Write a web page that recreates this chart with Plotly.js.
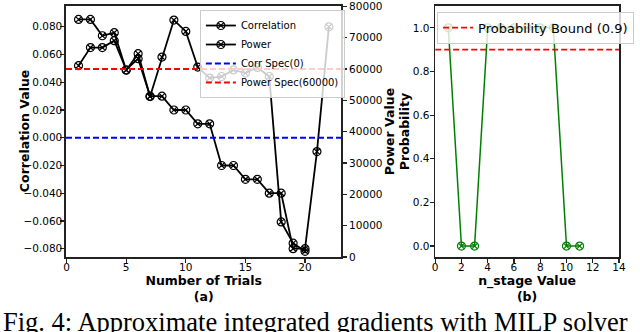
<!DOCTYPE html>
<html>
<head>
<meta charset="utf-8">
<script src="https://cdn.plot.ly/plotly-3.0.1.min.js"></script>
<style>
  html, body { margin: 0; padding: 0; background: #fff; }
  #graph { width: 640px; height: 332px; }
</style>
</head>
<body>
<div id="graph"></div>
<script>
// Panel (a): correlation and power per trial
var trials = [1, 2, 3, 4, 5, 6, 7, 8, 9, 10, 11, 12, 13, 14, 15, 16, 17, 18, 19, 20, 21, 22];
var correlation = [0.052, 0.065, 0.065, 0.070, 0.049, 0.057, 0.030, 0.030, 0.020, 0.020, 0.010,
                   0.010, -0.020, -0.020, -0.030, -0.030, -0.040, -0.040, -0.080, -0.080, -0.010, 0.080];
var powerTrials = [1, 2, 3, 4, 5, 6, 7, 8, 9, 10, 11, 12, 13, 14, 15, 16, 17, 18, 19, 20];
var power = [75800, 75800, 70600, 71600, 59600, 64900, 51200, 63800, 75600, 72000,
             60600, 57100, 57600, 59700, 58700, 60500, 57600, 11200, 4400, 1800];
var corrSpec = 0;
var powerSpec = 60000;
var trialRange = [-0.05, 23.05];

// Panel (b): probability per n_stage value
var nStage = [1, 2, 3, 4, 5, 6, 7, 8, 9, 10, 11];
var probability = [1, 0, 0, 1, 1, 1, 1, 1, 1, 0, 0];
var probBound = 0.9;
var stageRange = [0, 14];

var FONT = 'DejaVu Sans';

var traces = [
    {
        x: trials, y: correlation, name: 'Correlation',
        type: 'scatter', mode: 'lines+markers',
        line: { color: 'black', width: 1.8 },
        marker: { symbol: 'circle-x-open', size: 8, color: 'black', line: { width: 1.2 } },
        xaxis: 'x', yaxis: 'y', legend: 'legend'
    },
    {
        x: powerTrials, y: power, name: 'Power',
        type: 'scatter', mode: 'lines+markers',
        line: { color: 'black', width: 1.8 },
        marker: { symbol: 'circle-x-open', size: 8, color: 'black', line: { width: 1.2 } },
        xaxis: 'x', yaxis: 'y2', legend: 'legend'
    },
    {
        x: trialRange, y: [corrSpec, corrSpec], name: 'Corr Spec(0)',
        type: 'scatter', mode: 'lines',
        line: { color: 'blue', width: 1.8, dash: '6px,3px' },
        xaxis: 'x', yaxis: 'y', legend: 'legend'
    },
    {
        x: trialRange, y: [powerSpec, powerSpec], name: 'Power Spec(60000)',
        type: 'scatter', mode: 'lines',
        line: { color: 'red', width: 1.8, dash: '6px,3px' },
        xaxis: 'x', yaxis: 'y2', legend: 'legend'
    },
    {
        x: nStage, y: probability, name: 'Probability',
        type: 'scatter', mode: 'lines+markers', showlegend: false,
        line: { color: 'green', width: 1.5 },
        marker: { symbol: 'circle-x-open', size: 8, color: 'green', line: { width: 1.2 } },
        xaxis: 'x2', yaxis: 'y3'
    },
    {
        x: stageRange, y: [probBound, probBound], name: 'Probability Bound (0.9)',
        type: 'scatter', mode: 'lines',
        line: { color: 'red', width: 1.8, dash: '6px,3px' },
        xaxis: 'x2', yaxis: 'y3', legend: 'legend2'
    }
];

var axisStyle = {
    showline: true, linecolor: '#222', linewidth: 1.6,
    ticks: 'outside', ticklen: 4, tickwidth: 1.2, tickcolor: '#222',
    showgrid: false, zeroline: false, ticklabeloverflow: 'allow',
    tickfont: { family: FONT, size: 10.5, color: 'black' }
};

function ax(extra) {
    return Object.assign({}, axisStyle, extra);
}

var titleFont = { family: FONT, size: 12.5, color: 'black' };

var layout = {
    width: 640, height: 332,
    margin: { l: 66, r: 12, t: 6, b: 75 },
    paper_bgcolor: 'white', plot_bgcolor: 'white',
    font: { family: FONT, color: 'black' },
    xaxis: ax({
        domain: [0, 0.498], range: trialRange, tickmode: 'linear', tick0: 0, dtick: 5,
        mirror: true, anchor: 'y', ticklabelstandoff: -4,
        title: { text: '<b>Number of Trials</b><br><b>(a)</b>', font: titleFont, standoff: 0 }
    }),
    yaxis: ax({
        range: [-0.086, 0.095], tickmode: 'linear', tick0: -0.08, dtick: 0.02, tickformat: '.3f',
        anchor: 'x', ticklabelstandoff: -4
    }),
    yaxis2: ax({
        range: [0, 80100], tickmode: 'linear', tick0: 0, dtick: 10000, tickformat: 'd',
        overlaying: 'y', side: 'right', anchor: 'x',
        title: { text: '<b>Power Value</b>', font: titleFont, standoff: 4 }
    }),
    xaxis2: ax({
        domain: [0.6676, 1], range: stageRange, tickmode: 'linear', tick0: 0, dtick: 2,
        mirror: true, anchor: 'y3', ticklabelstandoff: -4,
        title: { text: '<b>n_stage Value</b><br><b>(b)</b>', font: titleFont, standoff: 0 }
    }),
    yaxis3: ax({
        range: [-0.05, 1.1], tickmode: 'linear', tick0: 0, dtick: 0.2, tickformat: '.1f',
        mirror: true, anchor: 'x2', ticklabelstandoff: -2,
        title: { text: '<b>Probability</b>', font: titleFont, standoff: 0 }
    }),
    legend: {
        x: 0.2421, y: 0.984, xanchor: 'left', yanchor: 'top',
        bgcolor: 'rgba(255,255,255,0.8)', bordercolor: '#ccc', borderwidth: 1,
        font: { family: FONT, size: 10, color: 'black' },
        itemwidth: 30, tracegroupgap: 0
    },
    legend2: {
        x: 0.671, y: 0.977, xanchor: 'left', yanchor: 'top',
        bgcolor: 'rgba(255,255,255,0.8)', bordercolor: '#ccc', borderwidth: 1,
        font: { family: FONT, size: 13, color: 'black' },
        itemwidth: 30
    },
    annotations: [
        {
            // left y title, placed by hand so it sits close to the tick labels
            text: '<b>Correlation Value</b>',
            xref: 'paper', yref: 'paper', x: -0.0748, y: 0.5,
            xanchor: 'center', yanchor: 'middle', textangle: -90, showarrow: false,
            font: titleFont
        },
        {
            text: 'Fig. 4: Approximate integrated gradients with MILP solver',
            xref: 'paper', yref: 'paper', x: 0.452, y: -0.257,
            xanchor: 'center', yanchor: 'middle', showarrow: false,
            font: { family: 'Liberation Serif', size: 26.5, color: 'black' }
        }
    ],
    showlegend: true
};

Plotly.newPlot('graph', traces, layout, { staticPlot: true });
</script>
</body>
</html>
